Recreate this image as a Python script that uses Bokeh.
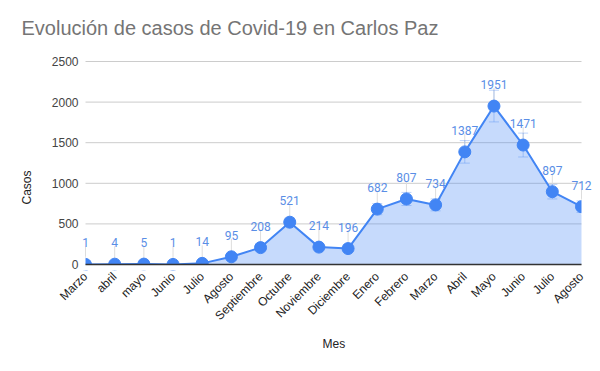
from math import pi
from bokeh.plotting import figure
from bokeh.models import ColumnDataSource, Range1d, FixedTicker, Title
from bokeh.core.properties import value
from bokeh.embed import file_html
from bokeh.resources import INLINE

# ---- data ----
months = ["Marzo", "abril", "mayo", "Junio", "Julio", "Agosto", "Septiembre",
          "Octubre", "Noviembre", "Diciembre", "Enero", "Febrero", "Marzo",
          "Abril", "Mayo", "Junio", "Julio", "Agosto"]
cases = [1, 4, 5, 1, 14, 95, 208, 521, 214, 196, 682, 807, 734, 1387, 1951,
         1471, 897, 712]
y_ticks = [0, 500, 1000, 1500, 2000, 2500]
error_pct = 0.10

# ---- layout constants (pixels) ----
BLUE = "#4285f4"
PLOT_L = 85          # left edge of the plotting area
PLOT_W = 496         # width of the plotting area
PLOT_H = 203         # height of the plotting area (0..2500)
PAD_T = 11           # extra canvas above 2500 (room for its label)
PAD_B = 6            # extra canvas below 0 (room for its label)
CANVAS_W = 598
Y_MAX = 2500
n = len(months)
xpp = (n - 1) / PLOT_W          # x data units per pixel
ypp = Y_MAX / PLOT_H            # y data units per pixel
x0 = 0
x1 = n - 1

xs = list(range(n))
src = ColumnDataSource(dict(
    x=xs,
    y=cases,
    zero=[0] * n,
    upper=[v * (1 + error_pct) for v in cases],
    lower=[v * (1 - error_pct) for v in cases],
    capl=[x - 5 * xpp for x in xs],
    capr=[x + 5 * xpp for x in xs],
    lead=[v + 18 * ypp for v in cases],
    lab=[str(v) for v in cases],
))

p = figure(frame_width=CANVAS_W, frame_height=PLOT_H + PAD_T + PAD_B,
           min_border_left=0, min_border_right=0,
           min_border_top=61 - PAD_T, min_border_bottom=99 - PAD_B,
           x_range=Range1d(x0 - PLOT_L * xpp, x1 + (CANVAS_W - PLOT_L - PLOT_W) * xpp),
           y_range=Range1d(-PAD_B * ypp, Y_MAX + PAD_T * ypp),
           output_backend="svg", toolbar_location=None,
           title="Evolución de casos de Covid-19 en Carlos Paz")
p.outline_line_color = None
p.background_fill_color = "white"
p.border_fill_color = "white"

p.title.text_font = "Liberation Sans"
p.title.text_font_size = "20px"
p.title.text_font_style = "normal"
p.title.text_color = "#757575"
p.title.offset = 21
p.title.standoff = 35 - PAD_T

p.xgrid.visible = False
p.ygrid.visible = False
p.yaxis.visible = False

# gridlines (only across the plotting area)
p.segment(x0=[x0] * len(y_ticks), x1=[x1] * len(y_ticks), y0=y_ticks, y1=y_ticks,
          line_color="#cccccc", line_width=1)

# x axis (labels only)
p.xaxis.ticker = FixedTicker(ticks=xs)
p.xaxis.major_label_overrides = {i: m for i, m in enumerate(months)}
p.xaxis.major_label_orientation = pi / 4
p.xaxis.axis_line_color = None
p.xaxis.major_tick_line_color = None
p.xaxis.minor_tick_line_color = None
p.xaxis.major_label_text_font = "Liberation Sans"
p.xaxis.major_label_text_font_size = "12px"
p.xaxis.major_label_text_color = "#222222"
p.xaxis.major_label_standoff = 4 - PAD_B

p.add_layout(Title(text="Mes", align="left", offset=PLOT_L + PLOT_W / 2 - 11,
                   standoff=8, text_font="Liberation Sans",
                   text_font_size="12px", text_font_style="normal",
                   text_color="#222222"), "below")

# area + line + markers
p.varea(x="x", y1="zero", y2="y", source=src, fill_color=BLUE, fill_alpha=0.3)
p.segment(x0="x", y0="y", x1="x", y1="lead", source=src,
          line_color="#dddddd", line_width=1)
p.line(x="x", y="y", source=src, line_color=BLUE, line_width=2)

# error bars
p.segment(x0="x", x1="x", y0="lower", y1="upper", source=src,
          line_color=BLUE, line_alpha=0.35, line_width=1)
p.segment(x0="capl", x1="capr", y0="upper", y1="upper", source=src,
          line_color=BLUE, line_alpha=0.35, line_width=1)
p.segment(x0="capl", x1="capr", y0="lower", y1="lower", source=src,
          line_color=BLUE, line_alpha=0.35, line_width=1)

p.scatter(x="x", y="y", source=src, size=12, fill_color=BLUE,
          line_color=BLUE)

# the plotting area clips the markers at its edges
p.quad(left=[x0 - 6.5 * xpp, x1, x0 - 6.5 * xpp],
       right=[x0, x1 + 8 * xpp, x1 + 8 * xpp],
       bottom=[cases[0] - 8 * ypp, cases[-1] - 8 * ypp, -PAD_B * ypp],
       top=[cases[0] + 8 * ypp, cases[-1] + 8 * ypp, 0],
       fill_color="white", line_color=None)

# baseline
p.segment(x0=[x0], x1=[x1], y0=[0], y1=[0], line_color="#333333", line_width=1.5)

# y tick labels
p.text(x=[x0 - 7 * xpp] * len(y_ticks), y=y_ticks, text=[str(t) for t in y_ticks],
       text_align="right", text_baseline="middle",
       text_font=value("Liberation Sans"), text_font_size="12px",
       text_color="#444444")

# y axis title
p.text(x=[x0 - 59 * xpp], y=[77 * ypp], text=["Casos"], angle=pi / 2,
       text_align="center", text_baseline="middle",
       text_font=value("Liberation Sans"), text_font_size="12px",
       text_color="#222222")

# data labels
p.text(x="x", y="y", text="lab", source=src, text_align="center",
       text_baseline="bottom", y_offset=-17,
       text_font=value("Roboto"), text_font_size="12px",
       text_color="#5a8ee6")

open("out.html", "w").write(file_html(p, INLINE))
